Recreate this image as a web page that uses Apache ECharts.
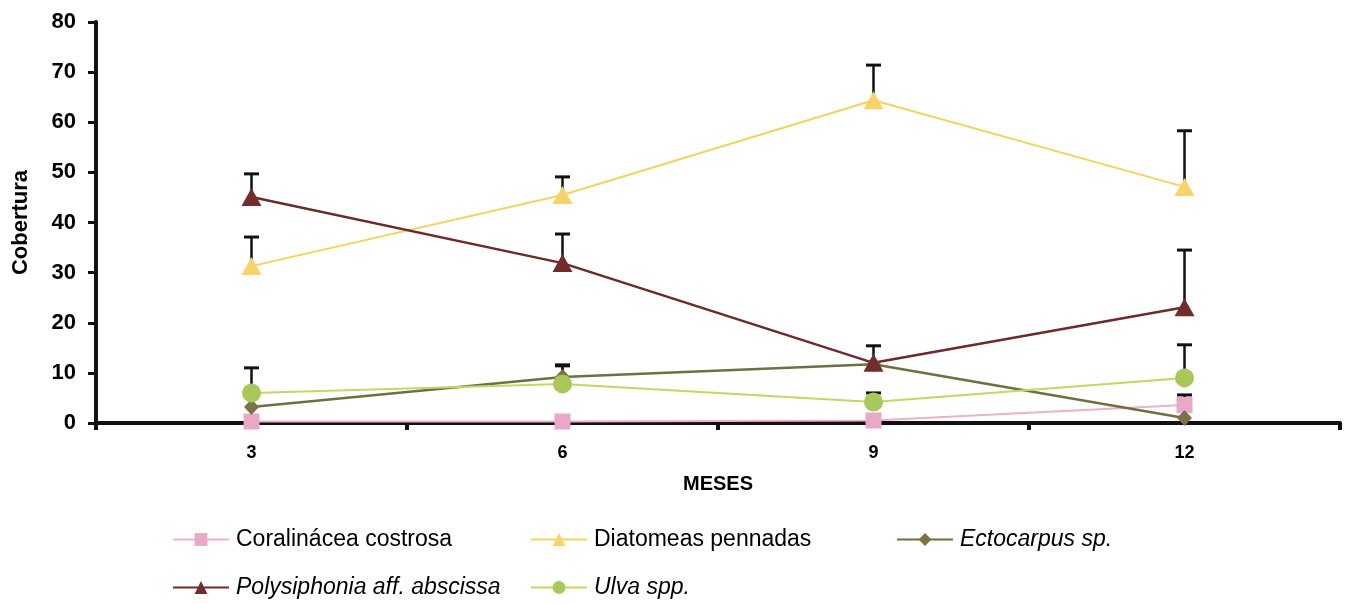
<!DOCTYPE html>
<html>
<head>
<meta charset="utf-8">
<script src="https://cdn.jsdelivr.net/npm/echarts@6/dist/echarts.min.js"></script>
<style>
  html, body { margin: 0; padding: 0; background: #fff; }
  #chart { width: 1348px; height: 603px; }
</style>
</head>
<body>
<div id="chart"></div>
<script>
// Months of sampling
const months = ['3', '6', '9', '12'];

// Mean cover per taxon
const coralinacea = [0.3, 0.3, 0.5, 3.6];
const diatomeas = [31.3, 45.5, 64.4, 47.1];
const ectocarpus = [3.2, 9.2, 11.7, 1.0];
const polysiphonia = [45.1, 31.9, 12.0, 23.1];
const ulva = [6.0, 7.8, 4.2, 9.0];

// Upper end of the error bars (mean + error)
const coralinaceaUp = [0.3, 0.3, 0.5, 5.6];
const diatomeasUp = [37.1, 49.1, 71.4, 58.3];
const ectocarpusUp = [3.2, 11.6, 15.4, 1.0];
const polysiphoniaUp = [49.7, 37.7, 12.0, 34.5];
const ulvaUp = [11.0, 11.4, 6.0, 15.6];

const yTicks = [0, 10, 20, 30, 40, 50, 60, 70, 80];

const FONT = '"Liberation Sans", Arial, sans-serif';

const chart = echarts.init(document.getElementById('chart'), null, { renderer: 'canvas' });

function errorSeries(means, ups) {
  const data = means.map((m, i) => [i, m, ups[i]]).filter(d => d[2] > d[1] + 0.05);
  return {
    type: 'custom',
    silent: true,
    z: 1,
    data: data,
    renderItem: function (params, api) {
      const x = api.value(0);
      const base = api.coord([x, api.value(1)]);
      const top = api.coord([x, api.value(2)]);
      const half = 7.5;
      return {
        type: 'group',
        children: [
          { type: 'line', shape: { x1: base[0], y1: base[1], x2: top[0], y2: top[1] },
            style: { stroke: '#111', lineWidth: 2.5 } },
          { type: 'line', shape: { x1: top[0] - half, y1: top[1], x2: top[0] + half, y2: top[1] },
            style: { stroke: '#111', lineWidth: 3 } }
        ]
      };
    }
  };
}

const taxa = [
  { name: 'Coralinácea costrosa', data: coralinacea, up: coralinaceaUp, line: '#EDB1CC', fill: '#E9A8C8', symbol: 'rect', size: 16, width: 2 },
  { name: 'Diatomeas pennadas', data: diatomeas, up: diatomeasUp, line: '#F4D35E', fill: '#F6D46A', symbol: 'triangle', size: [20, 18], width: 2 },
  { name: 'Ectocarpus sp.', data: ectocarpus, up: ectocarpusUp, line: '#6E7040', fill: '#7A7444', symbol: 'diamond', size: [15, 16], width: 2.5 },
  { name: 'Polysiphonia aff. abscissa', data: polysiphonia, up: polysiphoniaUp, line: '#6E2A2A', fill: '#722C2C', symbol: 'triangle', size: [20, 18], width: 2.5 },
  { name: 'Ulva spp.', data: ulva, up: ulvaUp, line: '#C2D862', fill: '#A9C85A', symbol: 'circle', size: 19, width: 2 }
];

const series = [];
taxa.forEach(t => series.push(errorSeries(t.data, t.up)));
taxa.forEach(t => series.push({
  name: t.name,
  type: 'line',
  data: t.data,
  z: 3,
  symbol: t.symbol,
  symbolSize: t.size,
  showAllSymbol: true,
  lineStyle: { color: t.line, width: t.width },
  itemStyle: { color: t.fill },
  emphasis: { disabled: true },
  animation: false
}));

// Legend placement: two rows, three columns
const legendPos = [
  { name: 'Coralinácea costrosa', left: 172, top: 528, italic: false },
  { name: 'Diatomeas pennadas', left: 530, top: 528, italic: false },
  { name: 'Ectocarpus sp.', left: 896, top: 528, italic: true },
  { name: 'Polysiphonia aff. abscissa', left: 172, top: 576, italic: true },
  { name: 'Ulva spp.', left: 530, top: 576, italic: true }
];

const legends = legendPos.map(p => ({
  data: [p.name],
  left: p.left,
  top: p.top,
  orient: 'horizontal',
  itemWidth: 56,
  itemHeight: 16,
  itemGap: 0,
  padding: 0,
  selectedMode: false,
  textStyle: {
    fontFamily: FONT,
    fontSize: 23,
    color: '#000',
    fontStyle: p.italic ? 'italic' : 'normal',
    padding: [0, 0, 0, 2]
  }
}));

chart.setOption({
  animation: false,
  backgroundColor: '#fff',
  grid: { left: 96, right: 8, top: 22, bottom: 180, containLabel: false },
  legend: legends,
  xAxis: {
    type: 'category',
    data: months,
    boundaryGap: true,
    name: 'MESES',
    nameLocation: 'middle',
    nameGap: 51,
    nameTextStyle: { fontFamily: FONT, fontWeight: 'bold', fontSize: 20, color: '#000' },
    axisLine: { lineStyle: { color: '#111', width: 4 } },
    axisTick: { show: true, alignWithLabel: false, length: 7, lineStyle: { color: '#111', width: 4 } },
    axisLabel: { fontFamily: FONT, fontWeight: 'bold', fontSize: 18, color: '#000', margin: 21 },
    splitLine: { show: false }
  },
  yAxis: {
    type: 'value',
    min: 0,
    max: 80,
    interval: 10,
    name: 'Cobertura',
    nameLocation: 'middle',
    nameGap: 64,
    nameRotate: 90,
    nameTextStyle: { fontFamily: FONT, fontWeight: 'bold', fontSize: 22, color: '#000' },
    axisLine: { show: true, lineStyle: { color: '#111', width: 4 } },
    axisTick: { show: true, length: 8, lineStyle: { color: '#111', width: 3 } },
    axisLabel: {
      fontFamily: FONT, fontWeight: 'bold', fontSize: 22, color: '#000', margin: 20,
      formatter: v => (yTicks.indexOf(v) >= 0 ? String(v) : '')
    },
    splitLine: { show: false }
  },
  series: series
});
</script>
</body>
</html>
